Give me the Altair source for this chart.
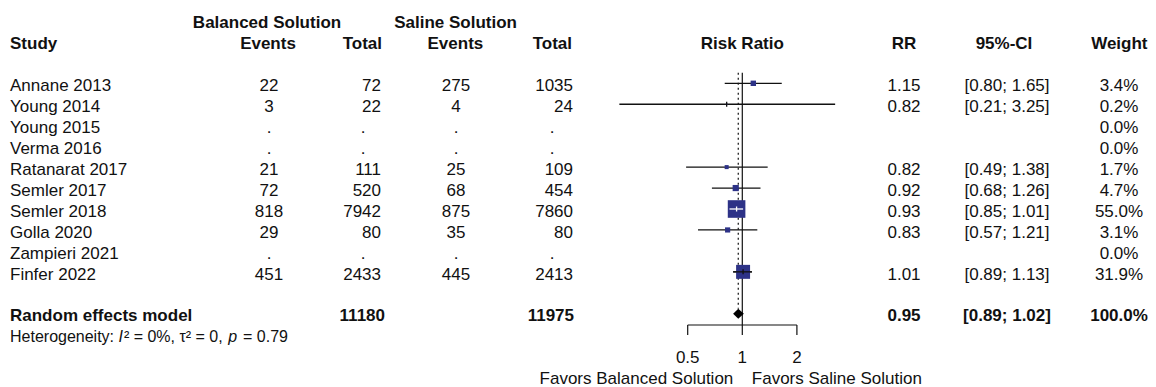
import math
import altair as alt
import pandas as pd

# ---------------- data ----------------
studies = ["Annane 2013", "Young 2014", "Young 2015", "Verma 2016", "Ratanarat 2017",
           "Semler 2017", "Semler 2018", "Golla 2020", "Zampieri 2021", "Finfer 2022"]
bal_events = [22, 3, None, None, 21, 72, 818, 29, None, 451]
bal_total = [72, 22, None, None, 111, 520, 7942, 80, None, 2433]
sal_events = [275, 4, None, None, 25, 68, 875, 35, None, 445]
sal_total = [1035, 24, None, None, 109, 454, 7860, 80, None, 2413]
rr = [1.15, 0.82, None, None, 0.82, 0.92, 0.93, 0.83, None, 1.01]
ci_low = [0.80, 0.21, None, None, 0.49, 0.68, 0.85, 0.57, None, 0.89]
ci_high = [1.65, 3.25, None, None, 1.38, 1.26, 1.01, 1.21, None, 1.13]
weight = [3.4, 0.2, 0.0, 0.0, 1.7, 4.7, 55.0, 3.1, 0.0, 31.9]

pooled_label = "Random effects model"
pooled_bal_total = 11180
pooled_sal_total = 11975
pooled_rr, pooled_low, pooled_high = 0.95, 0.89, 1.02
pooled_weight = 100.0
axis_ticks = [0.5, 1, 2]
# (text, style, gap after in em)
het_segments = [("Heterogeneity:", "normal", 0.278), ("I", "italic", 0.06),
                ("\u00b2 = 0%, \u03c4\u00b2 = 0,", "normal", 0.278),
                ("p", "italic", 0.36), ("= 0.79", "normal", 0)]

# ---------------- layout ----------------
FONT = "Liberation Sans"
TXT = "#111111"
BOX = "#2d3287"
W, H = 1140, 371
X_ONE = 734.3          # pixel of RR = 1
PX_LOG2 = 54.6         # pixels per doubling
ROW0, ROWH = 75.3, 20.95
FS = 17
DY = 2.7
SIZE_MAX = 310
SIZE_EXP = 0.85
TICK_H = 2.5
WT_X = 1111

def row_px(r):
    return ROW0 + r * ROWH

xs = alt.Scale(type="log", domain=[2 ** (-X_ONE / PX_LOG2), 2 ** ((W - X_ONE) / PX_LOG2)],
               range=[0, W], nice=False, zero=False)
ys = alt.Scale(domain=[-ROW0 / ROWH, (H - ROW0) / ROWH], range=[0, H], nice=False, zero=False)

def s(v):
    return "." if v is None else str(v)

recs = []
for i, name in enumerate(studies):
    rec = dict(row=i, study=name,
               be=s(bal_events[i]), se=s(sal_events[i]),
               bt="" if bal_total[i] is None else str(bal_total[i]),
               btd="." if bal_total[i] is None else "",
               st="" if sal_total[i] is None else str(sal_total[i]),
               std="." if sal_total[i] is None else "",
               rrt="" if rr[i] is None else f"{rr[i]:.2f}",
               cit="" if rr[i] is None else f"[{ci_low[i]:.2f}; {ci_high[i]:.2f}]",
               wt=f"{weight[i]:.1f}%")
    recs.append(rec)
df = pd.DataFrame(recs)

est = []
for i in range(len(studies)):
    if rr[i] is None:
        continue
    side = math.sqrt(SIZE_MAX * (weight[i] / 55.0) ** SIZE_EXP)
    half = side / 2
    left = PX_LOG2 * math.log2(rr[i] / ci_low[i])
    right = PX_LOG2 * math.log2(ci_high[i] / rr[i])
    col = "white" if (left <= half and right <= half) else "#111111"
    est.append(dict(row=i, rr=rr[i], lo=ci_low[i], hi=ci_high[i], w=weight[i], col=col,
                    tick=1 if (side < 3 or side > 10) else 0,
                    t1=i - TICK_H / ROWH, t2=i + TICK_H / ROWH))
dfe = pd.DataFrame(est)

Y = alt.Y("row:Q", scale=ys, axis=None)

def col_text(data, field, x, align, bold=False):
    return alt.Chart(data).mark_text(align=align, baseline="middle", font=FONT, fontSize=FS, dy=DY,
                                     fontWeight="bold" if bold else "normal", color=TXT).encode(
        x=alt.value(x), y=Y, text=alt.Text(f"{field}:N"))

def label(text, x, y, align="left", bold=False, size=FS, style="normal"):
    return alt.Chart(pd.DataFrame({"t": [text]})).mark_text(
        align=align, baseline="middle", font=FONT, fontSize=size, dy=DY,
        fontWeight="bold" if bold else "normal", fontStyle=style, color=TXT).encode(
        x=alt.value(x), y=alt.value(y), text="t:N")

layers = []

# headers
h1, h2 = row_px(-3), row_px(-2)
layers += [
    label("Balanced Solution", 259, h1, "center", True),
    label("Saline Solution", 447.6, h1, "center", True),
    label("Study", 2, h2, "left", True),
    label("Events", 260, h2, "center", True),
    label("Total", 374, h2, "right", True),
    label("Events", 447.4, h2, "center", True),
    label("Total", 564, h2, "right", True),
    label("Risk Ratio", X_ONE, h2, "center", True),
    label("RR", 896, h2, "center", True),
    label("95%-CI", 996, h2, "center", True),
    label("Weight", 1139.5, h2, "right", True),
]

# study table
layers += [
    col_text(df, "study", 2, "left"),
    col_text(df, "be", 261, "center"),
    col_text(df, "bt", 373, "right"),
    col_text(df, "btd", 355, "center"),
    col_text(df, "se", 448, "center"),
    col_text(df, "st", 565, "right"),
    col_text(df, "std", 544, "center"),
    col_text(df, "rrt", 896, "center"),
    col_text(df, "cit", 999, "center"),
    col_text(df, "wt", WT_X, "center"),
]

# pooled row
pr = row_px(11)
layers += [
    label(pooled_label, 2, pr, "left", True),
    label(str(pooled_bal_total), 377, pr, "right", True),
    label(str(pooled_sal_total), 566, pr, "right", True),
    label(f"{pooled_rr:.2f}", 896, pr, "center", True),
    label(f"[{pooled_low:.2f}; {pooled_high:.2f}]", 999, pr, "center", True),
    label(f"{pooled_weight:.1f}%", WT_X, pr, "center", True),
]

# heterogeneity line
HS = 16
cw = {"H": .722, "e": .556, "t": .278, "r": .333, "o": .556, "g": .556, "n": .556, "i": .222,
      "y": .5, ":": .278, " ": .278, "=": .584, "0": .556, "%": .889, ",": .278,
      "\u03c4": .47, "\u00b2": .333, ".": .278, "7": .556, "9": .556, "I": .278, "p": .556}
hx = 2.0
hr = row_px(12)
for seg, style, gap in het_segments:
    layers.append(label(seg, hx, hr, "left", False, HS, style))
    hx += (sum(cw.get(c, .556) for c in seg) + gap) * HS

# forest plot
AX_Y = 317
ref_df = pd.DataFrame({"v": [1.0]})
layers.append(alt.Chart(ref_df).mark_rule(color="#111111", strokeWidth=1.2).encode(
    x=alt.X("v:Q", scale=xs, axis=None), y=alt.value(row_px(-0.5)), y2=alt.value(AX_Y)))
pool_df = pd.DataFrame({"v": [pooled_rr]})
layers.append(alt.Chart(pool_df).mark_rule(color="#111111", strokeWidth=1.2, strokeDash=[2, 3]).encode(
    x=alt.X("v:Q", scale=xs, axis=None), y=alt.value(row_px(-0.5)), y2=alt.value(pr - 5)))

layers.append(alt.Chart(dfe).mark_rule(color="#111111", strokeWidth=1.3).encode(
    x=alt.X("lo:Q", scale=xs, axis=None), x2="hi:Q", y=Y))
layers.append(alt.Chart(dfe).mark_square(filled=True, opacity=1, color=BOX).encode(
    x=alt.X("rr:Q", scale=xs, axis=None), y=Y,
    size=alt.Size("w:Q", scale=alt.Scale(type="pow", exponent=SIZE_EXP, domain=[0, 55],
                                         range=[0, SIZE_MAX], zero=True), legend=None)))
layers.append(alt.Chart(dfe).transform_filter("datum.col == 'white' || datum.w > 20").mark_rule(
    strokeWidth=1.3).encode(
    x=alt.X("lo:Q", scale=xs, axis=None), x2="hi:Q", y=Y,
    color=alt.Color("col:N", scale=None)))
layers.append(alt.Chart(dfe).transform_filter("datum.tick == 1").mark_rule(strokeWidth=1.3).encode(
    x=alt.X("rr:Q", scale=xs, axis=None), y=alt.Y("t1:Q", scale=ys, axis=None), y2="t2:Q",
    color=alt.Color("col:N", scale=None)))

# diamond
dh = 5.0 / ROWH
dia = pd.DataFrame({"x": [pooled_low, pooled_rr, pooled_high],
                    "y1": [11, 11 - dh, 11], "y2": [11, 11 + dh, 11]})
layers.append(alt.Chart(dia).mark_area(color="#000000", opacity=1).encode(
    x=alt.X("x:Q", scale=xs, axis=None), y=alt.Y("y1:Q", scale=ys, axis=None), y2="y2:Q"))

# axis
tick_df = pd.DataFrame({"v": axis_ticks, "t": ["0.5", "1", "2"]})
layers.append(alt.Chart(pd.DataFrame({"a": [min(axis_ticks)], "b": [max(axis_ticks)]})).mark_rule(
    color="#111111", strokeWidth=1.2).encode(
    x=alt.X("a:Q", scale=xs, axis=None), x2="b:Q", y=alt.value(AX_Y)))
layers.append(alt.Chart(tick_df).mark_rule(color="#111111", strokeWidth=1.2).encode(
    x=alt.X("v:Q", scale=xs, axis=None), y=alt.value(AX_Y), y2=alt.value(AX_Y + 10)))
layers.append(alt.Chart(tick_df).mark_text(font=FONT, fontSize=FS, color=TXT, baseline="middle",
                                           align="center", dy=DY).encode(
    x=alt.X("v:Q", scale=xs, axis=None), y=alt.value(347), text="t:N"))
fav = pd.DataFrame({"v": [1.0], "l": ["Favors Balanced Solution"], "r": ["Favors Saline Solution"]})
layers.append(alt.Chart(fav).mark_text(font=FONT, fontSize=FS, color=TXT, baseline="middle",
                                       align="right", dx=-9, dy=DY).encode(
    x=alt.X("v:Q", scale=xs, axis=None), y=alt.value(367.8), text="l:N"))
layers.append(alt.Chart(fav).mark_text(font=FONT, fontSize=FS, color=TXT, baseline="middle",
                                       align="left", dx=9.5, dy=DY).encode(
    x=alt.X("v:Q", scale=xs, axis=None), y=alt.value(367.8), text="r:N"))

chart = alt.layer(*layers).properties(
    width=W, height=H, autosize=alt.AutoSizeParams(type="none"),
    padding={"left": 0, "top": 0, "right": 0, "bottom": 8}, background="white"
).configure_view(stroke=None)

chart.save("out.html", embed_options={"renderer": "svg", "actions": False})
